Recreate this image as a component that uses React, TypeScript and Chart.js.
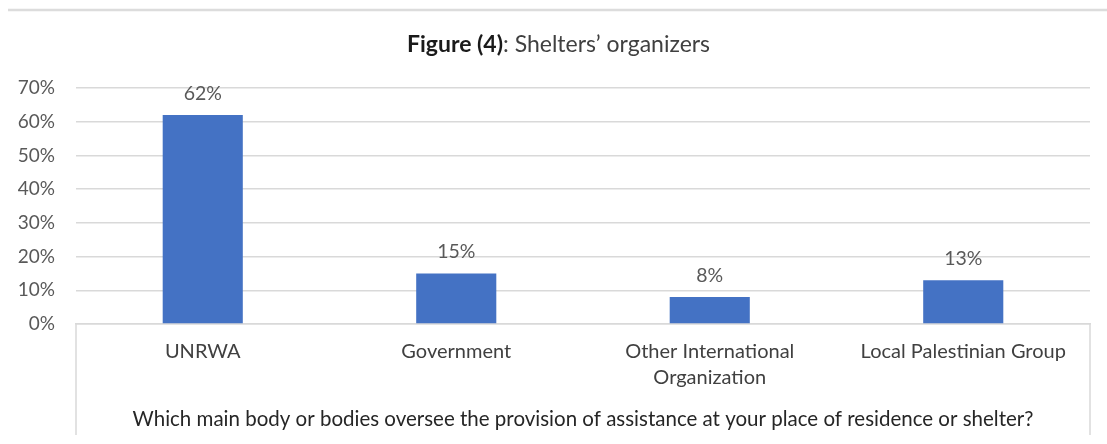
import React, { useEffect, useRef } from 'react';
import { Chart, registerables } from 'chart.js';

Chart.register(...registerables);

const categories: (string | string[])[] = [
  'UNRWA',
  'Government',
  ['Other International', 'Organization'],
  'Local Palestinian Group',
];
const values = [62, 15, 8, 13];
const yMin = 0;
const yMax = 70;
const yStep = 10;
const titleBold = 'Figure (4)';
const titleRest = ': Shelters\u2019 organizers';
const xAxisTitle =
  'Which main body or bodies oversee the provision of assistance at your place of residence or shelter?';

const FONT = 'Lato, "Noto Sans", sans-serif';

const framePlugin = {
  id: 'frame',
  beforeDraw(chart: any) {
    const { ctx, chartArea, width, height } = chart;
    ctx.save();
    ctx.strokeStyle = '#dcdcdc';
    ctx.lineWidth = 2.5;
    ctx.beginPath();
    ctx.moveTo(8, 10);
    ctx.lineTo(width, 10);
    ctx.stroke();
    ctx.strokeStyle = '#d9d9d9';
    ctx.lineWidth = 1.5;
    ctx.beginPath();
    ctx.moveTo(chartArea.left, chartArea.bottom);
    ctx.lineTo(chartArea.left, height - 9);
    ctx.moveTo(chartArea.right, chartArea.bottom);
    ctx.lineTo(chartArea.right, height - 9);
    ctx.stroke();
    ctx.restore();
  },
};

const titlePlugin = {
  id: 'mixedTitle',
  afterDraw(chart: any) {
    const { ctx, width } = chart;
    ctx.save();
    const size = 23;
    ctx.textBaseline = 'middle';
    ctx.font = `bold ${size}px ${FONT}`;
    const wb = ctx.measureText(titleBold).width;
    ctx.font = `${size}px ${FONT}`;
    const wr = ctx.measureText(titleRest).width;
    const cx = width / 2 + 5;
    const x0 = cx - (wb + wr) / 2;
    const y = 45;
    ctx.textAlign = 'left';
    ctx.fillStyle = '#1a1a1a';
    ctx.font = `bold ${size}px ${FONT}`;
    ctx.fillText(titleBold, x0, y);
    ctx.fillStyle = '#404040';
    ctx.font = `${size}px ${FONT}`;
    ctx.fillText(titleRest, x0 + wb, y);
    ctx.restore();
  },
};

const labelPlugin = {
  id: 'barLabels',
  afterDatasetsDraw(chart: any) {
    const { ctx } = chart;
    const meta = chart.getDatasetMeta(0);
    ctx.save();
    ctx.font = `19.5px ${FONT}`;
    ctx.fillStyle = '#595959';
    ctx.textAlign = 'center';
    ctx.textBaseline = 'alphabetic';
    meta.data.forEach((bar: any, i: number) => {
      ctx.fillText(`${values[i]}%`, bar.x, bar.y - 15);
    });
    ctx.restore();
  },
};

export default function App() {
  const canvasRef = useRef<HTMLCanvasElement | null>(null);

  useEffect(() => {
    if (!canvasRef.current) return;
    const chart = new Chart(canvasRef.current, {
      type: 'bar',
      data: {
        labels: categories as any,
        datasets: [
          {
            data: values,
            backgroundColor: '#4472C4',
            borderWidth: 0,
            categoryPercentage: 1,
            barPercentage: 0.316,
          },
        ],
      },
      plugins: [framePlugin, titlePlugin, labelPlugin],
      options: {
        animation: false,
        responsive: true,
        maintainAspectRatio: false,
        layout: { padding: { left: 0, right: 17, top: 88, bottom: 0 } },
        plugins: {
          legend: { display: false },
          title: { display: false },
          tooltip: { enabled: false },
        },
        scales: {
          x: {
            grid: { display: false, drawTicks: false },
            border: { display: true, color: '#d9d9d9', width: 1.5 },
            ticks: {
              padding: 15,
              color: '#404040',
              font: { family: FONT, size: 20, lineHeight: 1.3 },
              maxRotation: 0,
              autoSkip: false,
            },
            title: {
              display: true,
              text: xAxisTitle,
              color: '#262626',
              font: { family: FONT, size: 20.5, lineHeight: 1.2 },
              padding: { top: 0, bottom: 12.5 },
            },
            afterFit(scale: any) {
              scale.height = 120;
            },
          },
          y: {
            min: yMin,
            max: yMax,
            grid: { color: '#d9d9d9', lineWidth: 1.5, drawTicks: false },
            border: { display: false },
            ticks: {
              stepSize: yStep,
              padding: 21,
              color: '#595959',
              font: { family: FONT, size: 19 },
              callback: (v: any) => `${v}%`,
            },
            afterFit(scale: any) {
              scale.width = 76;
            },
          },
        },
      },
    });
    return () => chart.destroy();
  }, []);

  return (
    <div style={{ position: 'fixed', left: 0, top: 0, width: 1107, height: 444, background: '#fff' }}>
      <canvas ref={canvasRef} />
    </div>
  );
}
